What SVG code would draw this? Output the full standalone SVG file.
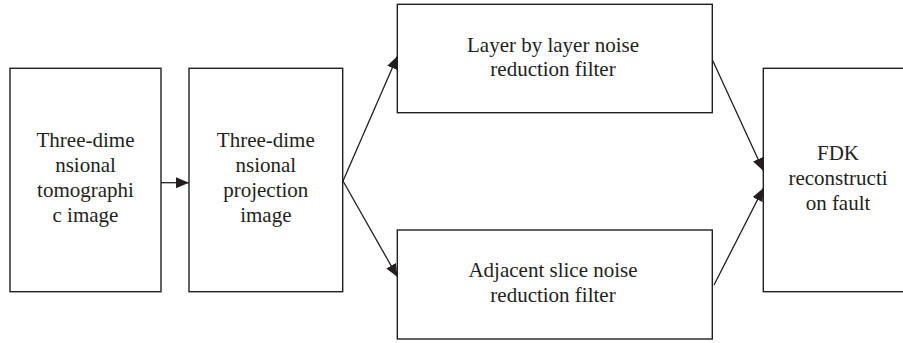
<svg xmlns="http://www.w3.org/2000/svg" width="903" height="343" viewBox="0 0 903 343">
<style>
.box{fill:#fff;stroke:#231f20;stroke-width:1.4}
.lbl{font-family:'Liberation Serif','DejaVu Serif',serif;font-size:21px;fill:#231f20;text-anchor:middle}
.conn{stroke:#231f20;stroke-width:1.3;fill:none;marker-end:url(#ah)}
</style>
<defs>
<marker id="ah" markerUnits="userSpaceOnUse" markerWidth="14" markerHeight="12" refX="13" refY="5.5" orient="auto">
<path d="M0,0 L13,5.5 L0,11 z" fill="#231f20"/>
</marker>
</defs>
<rect width="903" height="343" fill="#fff"/>
<g id="connectors">
<line class="conn" x1="161" y1="182.7" x2="189" y2="182.7"/>
<line class="conn" x1="343" y1="181" x2="397.5" y2="56"/>
<line class="conn" x1="343" y1="181" x2="397.5" y2="277"/>
<line class="conn" x1="712" y1="59" x2="763.5" y2="171"/>
<line class="conn" x1="714" y1="285" x2="763.5" y2="188"/>
</g>
<g id="n1">
<rect class="box" x="10" y="68.3" width="151" height="223.4"/>
<text class="lbl" x="85.5" y="147.3">Three-dime</text>
<text class="lbl" x="85.5" y="172.3">nsional</text>
<text class="lbl" x="85.5" y="197.3">tomographi</text>
<text class="lbl" x="85.5" y="222.3">c image</text>
</g>
<g id="n2">
<rect class="box" x="189" y="68.3" width="153.7" height="223.4"/>
<text class="lbl" x="265.8" y="147.3">Three-dime</text>
<text class="lbl" x="265.8" y="172.3">nsional</text>
<text class="lbl" x="265.8" y="197.3">projection</text>
<text class="lbl" x="265.8" y="222.3">image</text>
</g>
<g id="n3">
<rect class="box" x="397.3" y="4.3" width="315" height="108.4"/>
<text class="lbl" x="553" y="51.7">Layer by layer noise</text>
<text class="lbl" x="553" y="76.2">reduction filter</text>
</g>
<g id="n4">
<rect class="box" x="397.3" y="230" width="315" height="109"/>
<text class="lbl" x="553" y="276.7">Adjacent slice noise</text>
<text class="lbl" x="553" y="301.7">reduction filter</text>
</g>
<g id="n5">
<rect class="box" x="763.3" y="68.3" width="150" height="223.4"/>
<text class="lbl" x="838" y="160">FDK</text>
<text class="lbl" x="838" y="185">reconstructi</text>
<text class="lbl" x="838" y="210">on fault</text>
</g>
</svg>
